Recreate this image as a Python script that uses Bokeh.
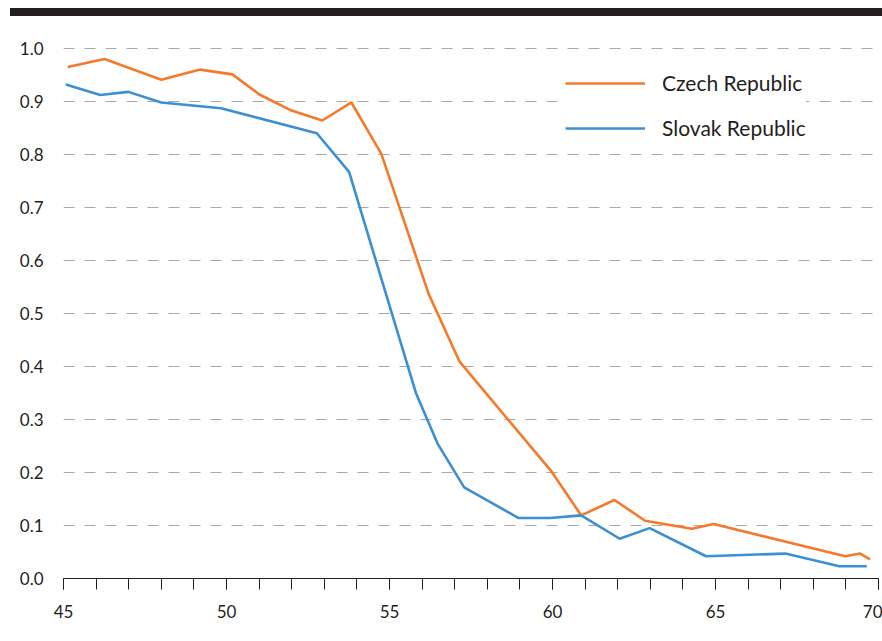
from bokeh.plotting import figure
from bokeh.layouts import column
from bokeh.models import (ColumnDataSource, Range1d, SingleIntervalTicker, FixedTicker,
                          Legend, LegendItem, NumeralTickFormatter, Div)
from bokeh.embed import file_html
from bokeh.resources import INLINE

# ---- data ----
czech_age = [45.13, 46.26, 48.0, 49.19, 50.18, 51.01, 51.95, 52.94, 53.83, 54.75, 56.2,
             57.15, 59.98, 60.88, 61.9, 62.84, 64.28, 64.94, 68.98, 69.44, 69.74]
czech_val = [0.965, 0.980, 0.941, 0.960, 0.951, 0.913, 0.884, 0.864, 0.898, 0.801, 0.537,
             0.409, 0.201, 0.119, 0.148, 0.109, 0.094, 0.103, 0.042, 0.047, 0.036]

slovak_age = [45.07, 46.13, 46.99, 48.0, 49.83, 52.77, 53.76, 55.81, 56.47, 57.29, 58.96,
              59.93, 60.88, 62.06, 62.98, 64.71, 67.14, 68.8, 69.64]
slovak_val = [0.932, 0.912, 0.918, 0.898, 0.887, 0.840, 0.767, 0.350, 0.255, 0.172, 0.114,
              0.114, 0.119, 0.075, 0.095, 0.042, 0.047, 0.023, 0.023]

series_names = ["Czech Republic", "Slovak Republic"]
y_ticks = [0.0, 0.1, 0.2, 0.3, 0.4, 0.5, 0.6, 0.7, 0.8, 0.9, 1.0]

ORANGE = "#f47a2a"
BLUE = "#3b8fd3"
TEXT = "#231f20"
FONT = "Lato"

W, H = 882, 620
ML, MR, MT, MB = 63, 4, 16, 58
p = figure(width=W, height=H, output_backend="svg", toolbar_location=None,
           x_range=Range1d(45, 70), y_range=Range1d(0, 1.03),
           min_border_left=ML, min_border_right=MR, min_border_top=MT, min_border_bottom=MB)
p.outline_line_color = None
p.background_fill_color = "white"
p.border_fill_color = "white"

# grid
p.xgrid.grid_line_color = None
p.ygrid.ticker = FixedTicker(ticks=y_ticks[1:])
p.ygrid.grid_line_color = "#a8a8a8"
p.ygrid.grid_line_dash = "11 10"
p.ygrid.grid_line_width = 1

# x axis
xa = p.xaxis[0]
xa.ticker = SingleIntervalTicker(interval=5, num_minor_ticks=5)
xa.axis_line_color = TEXT
xa.major_tick_line_color = TEXT
xa.minor_tick_line_color = TEXT
xa.major_tick_in = 0
xa.major_tick_out = 11
xa.minor_tick_in = 0
xa.minor_tick_out = 11
xa.major_label_text_font = FONT
xa.major_label_text_font_size = "17px"
xa.major_label_text_color = TEXT
xa.major_label_standoff = 15

# y axis
ya = p.yaxis[0]
ya.ticker = FixedTicker(ticks=y_ticks)
ya.formatter = NumeralTickFormatter(format="0.0")
ya.axis_line_color = None
ya.major_tick_line_color = None
ya.minor_tick_line_color = None
ya.major_tick_out = 0
ya.major_tick_in = 0
ya.major_label_text_font = FONT
ya.major_label_text_font_size = "17px"
ya.major_label_text_color = TEXT
ya.major_label_standoff = 20

src_cz = ColumnDataSource(dict(x=czech_age, y=czech_val))
src_sk = ColumnDataSource(dict(x=slovak_age, y=slovak_val))
r_cz = p.line("x", "y", source=src_cz, line_color=ORANGE, line_width=2.6)
r_sk = p.line("x", "y", source=src_sk, line_color=BLUE, line_width=2.6)

legend = Legend(items=[LegendItem(label=series_names[0], renderers=[r_cz]),
                       LegendItem(label=series_names[1], renderers=[r_sk])],
                location=(502, 438))
legend.background_fill_color = "white"
legend.background_fill_alpha = 1
legend.border_line_color = None
legend.padding = 14
legend.spacing = 20
legend.glyph_width = 80
legend.glyph_height = 20
legend.label_height = 20
legend.label_standoff = 17
legend.label_text_font = FONT
legend.label_text_font_size = "21px"
legend.label_text_color = TEXT
legend.label_text_baseline = "middle"
p.add_layout(legend, "center")

# top black rule
bar = Div(text="", width=W - 10, height=8, margin=(8, 0, 0, 10),
          styles={"background-color": "#231f20"})

layout = column(bar, p, spacing=0)
open("out.html", "w").write(file_html(layout, INLINE))
